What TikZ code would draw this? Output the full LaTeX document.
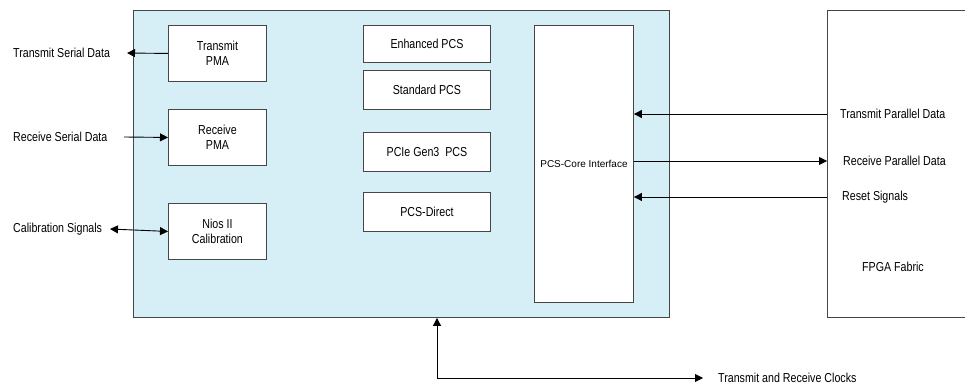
\documentclass[tikz,border=0pt]{standalone}
\usepackage{fontspec}
\setmainfont{Liberation Sans}[FakeStretch=0.82]
\newfontfamily\plainfont{Liberation Sans}
\usetikzlibrary{arrows.meta}
\definecolor{panel}{RGB}{214,238,245}
\definecolor{edge}{RGB}{70,70,70}
\tikzset{
  blk/.style={draw=edge, fill=white, line width=0.9pt, anchor=north west, inner sep=0pt, align=center, font=\fontsize{13}{15}\selectfont},
  lbl/.style={anchor=west, inner sep=0pt, font=\fontsize{13}{15}\selectfont},
  arr/.style={line width=0.9pt, -{Triangle[length=8pt,width=8pt]}},
  darr/.style={line width=0.9pt, {Triangle[length=8pt,width=8pt]}-{Triangle[length=8pt,width=8pt]}},
}
\begin{document}
\begin{tikzpicture}[x=1pt,y=-1pt]
\useasboundingbox (0,0) rectangle (965,385);
\node[blk, fill=panel, minimum width=536pt, minimum height=307pt] (main) at (133,10) {};
\node[blk, minimum width=98pt, minimum height=56pt] (tpma) at (168,25) {Transmit\\PMA};
\node[blk, minimum width=98pt, minimum height=56pt] (rpma) at (168,109) {Receive\\PMA};
\node[blk, minimum width=98pt, minimum height=56pt] (nios) at (168,203) {Nios II\\Calibration};
\node[blk, minimum width=127pt, minimum height=37pt] (epcs) at (363,25) {Enhanced PCS};
\node[blk, minimum width=127pt, minimum height=39pt] (spcs) at (363,70) {Standard PCS};
\node[blk, minimum width=127pt, minimum height=39pt] (ppcs) at (363,132) {PCIe Gen3\ \ PCS};
\node[blk, minimum width=127pt, minimum height=39pt] (dpcs) at (363,192) {PCS-Direct};
\node[blk, minimum width=99pt, minimum height=277pt, font=\plainfont\fontsize{10}{12}\selectfont] (core) at (534,25) {PCS-Core Interface};
\node[anchor=north west, inner sep=0pt, minimum width=140pt, minimum height=307pt] (fpga) at (827,10) {};
\draw[edge, line width=0.9pt] (fpga.north east) -- (fpga.north west) -- (fpga.south west) -- (fpga.south east);
\node[lbl, anchor=center] (fpgal) at (893,267) {FPGA Fabric};
% left labels
\node[lbl] (tsd) at (13,53) {Transmit Serial Data};
\node[lbl] (rsd) at (13,137) {Receive Serial Data};
\node[lbl] (cal) at (13,229) {Calibration Signals};
\coordinate (tsdend) at (127,53);
\coordinate (rsdstart) at (124,137);
\coordinate (calend) at (110,229);
\draw[arr] (tpma.west) -- (tsdend);
\draw[arr] (rsdstart) -- (rpma.west);
\draw[darr] (calend) -- (nios.west);
% right labels
\node[lbl] (tpd) at (840,114) {Transmit Parallel Data};
\node[lbl] (rpd) at (843,161) {Receive Parallel Data};
\node[lbl] (rst) at (842,197) {Reset Signals};
\coordinate (tpdp) at (827,114);
\coordinate (rpdp) at (827,161);
\coordinate (rstp) at (827,197);
\draw[arr] (tpdp) -- (core.east |- tpdp);
\draw[arr] (core.east |- rpdp) -- (rpdp);
\draw[arr] (rstp) -- (core.east |- rstp);
% clocks
\coordinate (ckc) at (437,378);
\coordinate (ckend) at (703,378);
\node[lbl] (clk) at (718,378) {Transmit and Receive Clocks};
\draw[darr] (ckend) -- (ckc) -- (main.south -| ckc);
\end{tikzpicture}
\end{document}
